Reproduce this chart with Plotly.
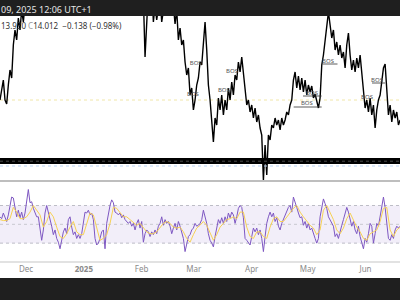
import plotly.graph_objects as go
import pandas as pd

# ---------------- data ----------------
start = "2024-11-17 01:30"
step = "1287min"

price = [
    16.0, 17.2, 18.0, 16.0, 15.6, 17.5, 19.0, 18.2, 21.5, 23.0, 22.0, 24.2, 23.0, 25.0, 23.8, 25.5,
    26.0, 26.4, 26.1, 26.8, 27.2, 26.9, 27.5, 27.8, 27.4, 28.0,
    28.3, 27.9, 28.5, 28.8, 28.4, 29.0, 29.3, 28.9, 29.5, 29.2,
    29.8, 30.1, 29.6, 30.0, 30.4, 29.9, 30.3, 30.0, 29.5, 29.8,
    29.3, 29.6, 29.1, 28.7, 29.0, 28.5, 28.8, 28.2, 28.5, 28.0,
    28.3, 27.8, 28.1, 27.6, 27.9, 27.4, 27.7, 27.2, 27.5, 27.0,
    27.3, 26.9, 27.2, 26.8, 27.0, 26.6, 26.9, 26.5, 26.8, 26.4,
    26.7, 26.3, 26.6, 26.2, 26.5, 26.1, 26.4, 26.0, 26.3, 25.9,
    26.2,
    20.3, 26.0, 27.0, 26.5, 27.5, 23.8, 25.5, 24.0, 25.7, 26.5, 23.8, 25.5,
    26.5, 27.2, 26.8, 27.5, 26.5, 25.5, 23.6, 25.0, 22.0, 23.2, 21.5, 22.0,
    19.8, 18.5, 19.2, 16.5, 17.2, 15.0, 16.0, 17.5, 18.2, 19.8, 19.5, 22.0,
    23.8, 21.0, 17.5, 16.0, 13.5, 11.8, 14.2, 13.5, 16.2, 15.0, 16.5, 14.5,
    16.0, 15.0, 17.2, 16.0, 17.8, 16.5, 18.5, 18.0, 19.8, 18.8, 20.3, 18.5,
    16.5, 15.5, 16.0, 14.8, 15.5, 14.2, 15.2, 13.8, 14.5, 13.2, 12.5, 8.0,
    11.5, 8.5, 12.5, 12.0, 13.5, 13.2, 14.2, 13.5, 14.0, 13.0, 14.2, 13.5,
    14.0, 14.8, 14.5, 15.5, 16.0, 18.0, 18.8, 17.2, 18.4, 17.0, 18.2, 16.8,
    18.0, 16.5, 17.5, 16.8, 17.4, 16.2, 16.6, 15.7, 15.2, 16.2, 19.5, 20.5,
    22.0, 23.0, 24.8, 23.5, 22.2, 23.0, 21.0, 21.8, 20.5, 21.5, 20.2, 20.8,
    19.2, 21.5, 22.7, 20.5, 19.0, 20.0, 18.8, 20.2, 19.2, 20.5, 18.8, 16.5,
    15.2, 16.0, 14.8, 16.2, 14.5, 15.5, 13.2, 15.0, 16.0, 16.5, 18.0, 19.2,
    19.6, 17.0, 14.5, 15.5, 13.8, 15.0, 14.2, 14.8, 13.5, 14.0,
]

rsi = [
    58, 56, 62, 57, 53, 60, 70, 79, 78, 67,
    58, 65, 57, 63, 55, 62, 76, 87, 73, 74, 67, 62, 58, 58,
    44, 33, 44, 62, 70, 63, 57, 48, 39, 44, 35, 31, 24, 35, 42, 46, 40, 55, 58, 47,
    39, 42, 35, 39, 35, 40, 51, 63, 62, 65, 60, 62, 55, 35, 28, 30, 35, 42, 44, 24,
    51, 62, 70, 76, 73, 63, 62, 60, 62, 57, 60, 55, 53, 51, 53, 48, 51, 44, 51, 55,
    46, 53, 31, 40, 44, 42, 37, 42, 39, 44, 40, 48, 51, 58, 49, 55, 51, 53, 48, 40,
    46, 51, 44, 53, 48, 40, 35, 21, 31, 37, 39, 44, 46, 51, 48, 49,
    51, 55, 65, 58, 51, 40, 33, 30, 26, 37, 48, 55, 51, 57, 51, 58, 53, 62, 57, 63,
    60, 51, 58, 67, 70, 68, 57, 35, 33, 30, 28, 37, 46, 42, 46, 39, 44, 35, 21, 37,
    51, 58, 63, 58, 62, 53, 57, 48, 44, 51, 55, 60, 63, 68, 70, 63, 79, 72, 68, 62,
    57, 58, 49, 53, 46, 51, 44, 46, 39, 35, 30, 35, 58, 70, 77, 72, 67, 58, 55, 51,
    48, 37, 40, 35, 44, 49, 55, 62, 68, 63, 55, 48, 53, 44, 40, 48, 37, 31, 24, 35,
    31, 40, 51, 48, 30, 40, 51, 48, 58, 72, 79, 68, 51, 35, 33, 39, 35, 44, 48, 46, 48,
]

rsi_ma = [
    55, 54, 54, 56, 68, 63, 56, 56, 58, 63, 70, 65, 60, 47, 53, 63, 58, 47, 37, 35,
    40, 47, 53, 42, 39, 39, 51, 62, 60, 47, 33, 35, 39, 51, 68, 67, 62, 58, 58, 55,
    53, 49, 51, 46, 42, 40, 40, 42, 46, 51, 53, 51, 47, 46, 47, 42, 35, 31, 39, 46,
    49, 53, 49, 40, 33, 39, 47, 51, 55, 56, 58, 56, 63, 63, 47, 37, 35, 42, 42, 37,
    35, 47, 56, 58, 53, 53, 58, 63, 67, 70, 63, 58, 53, 49, 46, 39, 44, 65, 70, 63,
    55, 44, 40, 46, 56, 62, 55, 47, 42, 35, 33, 40, 42, 44, 53, 67, 68, 44, 37, 44, 47,
]

bos_text = ["BOS", "BOS", "BOS", "BOS", "BOS", "BOS", "BOS", "BOS", "BOS"]
bos_date = ["2025-03-02", "2025-02-28 12:00", "2025-03-17 02:00", "2025-03-21 10:00",
            "2025-04-30 14:00", "2025-05-03 08:00", "2025-05-11 22:00", "2025-06-01 20:00",
            "2025-06-07 05:00"]
bos_price = [19.7, 16.6, 17.0, 18.9, 15.7, 16.7, 19.9, 16.3, 18.0]

bos_line_start = ["2025-04-23 12:00", "2025-04-28 12:00", "2025-05-09 00:00", "2025-06-04 12:00"]
bos_line_end = ["2025-05-08 12:00", "2025-05-08 12:00", "2025-05-17 00:00", "2025-06-11 12:00"]
bos_line_level = [15.3, 16.4, 19.6, 17.7]

time_ticks = ["2024-12-01", "2025-01-01", "2025-02-01", "2025-03-01", "2025-04-01", "2025-05-01", "2025-06-01"]
time_labels = ["Dec", "<b>2025</b>", "Feb", "Mar", "Apr", "May", "Jun"]

x_range = ["2024-11-17 01:30", "2025-06-19 12:00"]
price_range = [7.9, 24.4]
rsi_range = [11, 95]
ref_level = 16.0

# ---------------- figure ----------------
n = min(len(price), len(rsi))
dates = pd.date_range(start, periods=n, freq=step)
ma_dates = dates[::2][:len(rsi_ma)]

fig = go.Figure()

fig.add_trace(go.Scatter(x=dates, y=price[:n], mode="lines",
                         line=dict(color="#000000", width=1.4),
                         xaxis="x", yaxis="y", hoverinfo="skip"))

# BOS structure lines
lx, ly = [], []
for s, e, lv in zip(bos_line_start, bos_line_end, bos_line_level):
    lx += [s, e, None]
    ly += [lv, lv, None]
fig.add_trace(go.Scatter(x=lx, y=ly, mode="lines", line=dict(color="#333333", width=0.8),
                         xaxis="x", yaxis="y", hoverinfo="skip"))
fig.add_trace(go.Scatter(x=bos_date, y=bos_price, mode="text", text=bos_text,
                         textfont=dict(size=6, color="#555555", family="Noto Sans"),
                         xaxis="x", yaxis="y", hoverinfo="skip"))

fig.add_trace(go.Scatter(x=dates, y=rsi[:n], mode="lines",
                         line=dict(color="#7e57c2", width=1),
                         xaxis="x2", yaxis="y2", hoverinfo="skip"))
fig.add_trace(go.Scatter(x=ma_dates, y=rsi_ma[:len(ma_dates)], mode="lines",
                         line=dict(color="#f7d154", width=1),
                         xaxis="x2", yaxis="y2", hoverinfo="skip"))

H = 300.0
def py(pix):
    return 1 - pix / H

shapes = [
    # RSI band and levels
    dict(type="rect", xref="paper", yref="y2", x0=0, x1=1, y0=30, y1=70,
         fillcolor="rgba(126,87,194,0.1)", line=dict(width=0), layer="below"),
    dict(type="line", xref="paper", yref="y2", x0=0, x1=1, y0=70, y1=70,
         line=dict(color="#bdbdc6", width=1, dash="dot"), layer="below"),
    dict(type="line", xref="paper", yref="y2", x0=0, x1=1, y0=50, y1=50,
         line=dict(color="#c8c8d0", width=1, dash="dot"), layer="below"),
    dict(type="line", xref="paper", yref="y2", x0=0, x1=1, y0=30, y1=30,
         line=dict(color="#bdbdc6", width=1, dash="dot"), layer="below"),
    # price reference line
    dict(type="line", xref="paper", yref="y", x0=0, x1=1, y0=ref_level, y1=ref_level,
         line=dict(color="#f0e6a8", width=1, dash="dot"), layer="below"),
    # black band
    dict(type="rect", xref="paper", yref="y", x0=0, x1=1, y0=9.6, y1=10.2,
         fillcolor="#000000", line=dict(width=0), layer="above"),
    dict(type="line", xref="paper", yref="y", x0=0, x1=1, y0=9.88, y1=9.88,
         line=dict(color="#4a4a4a", width=1, dash="dot"), layer="above"),
    dict(type="line", xref="paper", yref="y", x0=0, x1=1, y0=9.4, y1=9.4,
         line=dict(color="#b9d3f3", width=1, dash="dot"), layer="above"),
    # separators
    dict(type="line", xref="paper", yref="paper", x0=0, x1=1, y0=py(181), y1=py(181),
         line=dict(color="#a8a8a8", width=1.5)),
    dict(type="line", xref="paper", yref="paper", x0=0, x1=1, y0=py(262), y1=py(262),
         line=dict(color="#e2e2e2", width=2)),
    # dark bars
    dict(type="rect", xref="paper", yref="paper", x0=0, x1=1, y0=py(16), y1=1,
         fillcolor="#1f1f1f", line=dict(width=0), layer="above"),
    dict(type="rect", xref="paper", yref="paper", x0=0, x1=1, y0=0, y1=py(278),
         fillcolor="#1f1f1f", line=dict(width=0), layer="above"),
]

annotations = [
    dict(xref="paper", yref="paper", x=-0.002, y=py(9), xanchor="left", yanchor="middle",
         text="09, 2025 12:06 UTC+1", showarrow=False,
         font=dict(size=9, color="#e6e6e6", family="Noto Sans")),
    dict(xref="paper", yref="paper", x=-0.002, y=py(25.5), xanchor="left", yanchor="middle",
         text="13.930 <span style='color:#9a9a9a'>C</span>14.012  −0.138 (−0.98%)",
         showarrow=False, font=dict(size=8, color="#333333", family="Noto Sans")),
]

fig.update_layout(
    width=400, height=300,
    margin=dict(l=0, r=0, t=0, b=0),
    paper_bgcolor="#ffffff", plot_bgcolor="rgba(0,0,0,0)",
    showlegend=False,
    shapes=shapes, annotations=annotations,
    xaxis=dict(domain=[0, 1], range=x_range, visible=False, anchor="y"),
    yaxis=dict(domain=[py(181), py(16)], range=price_range, visible=False, anchor="x"),
    xaxis2=dict(domain=[0, 1], range=x_range, anchor="y2", matches="x",
                tickvals=time_ticks, ticktext=time_labels, ticks="",
                showgrid=False, showline=False, zeroline=False,
                ticklabelstandoff=2,
                tickfont=dict(size=8, color="#8a8a8a", family="Noto Sans")),
    yaxis2=dict(domain=[py(261), py(182)], range=rsi_range, visible=False, anchor="x2"),
)

fig.write_html("out.html")
